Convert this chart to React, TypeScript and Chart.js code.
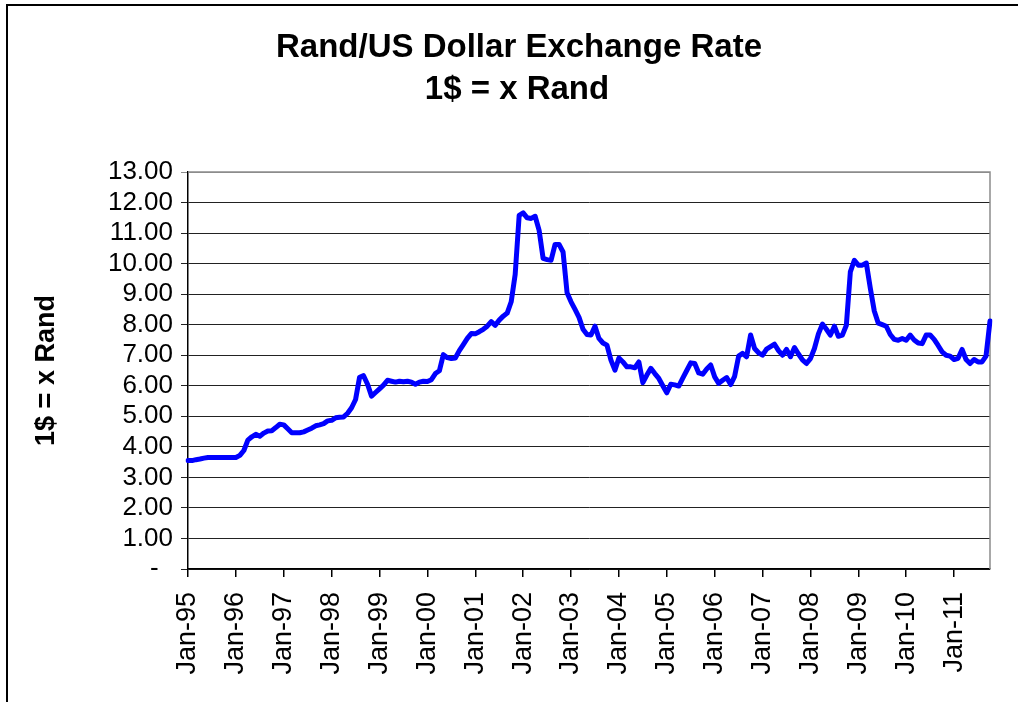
import React, { useEffect, useRef } from 'react';
import { Chart, registerables } from 'chart.js';

Chart.register(...registerables);

const FONT = '"Liberation Sans", Arial, Helvetica, sans-serif';

const titleLines = ['Rand/US Dollar Exchange Rate', '1$ = x Rand'];
const yAxisTitle = '1$ = x Rand';

const monthNames = ['Jan', 'Feb', 'Mar', 'Apr', 'May', 'Jun', 'Jul', 'Aug', 'Sep', 'Oct', 'Nov', 'Dec'];
const yearCodes = ['95', '96', '97', '98', '99', '00', '01', '02', '03', '04', '05', '06', '07', '08', '09', '10', '11'];

// Monthly rand per US dollar
const rate1995 = [3.55, 3.55, 3.58, 3.6, 3.63, 3.65, 3.65, 3.65, 3.65, 3.65, 3.65, 3.65];
const rate1996 = [3.65, 3.72, 3.88, 4.22, 4.33, 4.41, 4.35, 4.45, 4.52, 4.53, 4.63, 4.74];
const rate1997 = [4.72, 4.59, 4.46, 4.46, 4.46, 4.49, 4.55, 4.61, 4.69, 4.72, 4.76, 4.85];
const rate1998 = [4.87, 4.95, 4.97, 4.98, 5.1, 5.28, 5.55, 6.28, 6.33, 6.05, 5.66, 5.78];
const rate1999 = [5.9, 6.02, 6.18, 6.15, 6.12, 6.15, 6.13, 6.15, 6.12, 6.05, 6.12, 6.15];
const rate2000 = [6.14, 6.2, 6.4, 6.49, 7.02, 6.92, 6.89, 6.91, 7.15, 7.35, 7.55, 7.71];
const rate2001 = [7.7, 7.77, 7.85, 7.95, 8.1, 7.98, 8.15, 8.28, 8.38, 8.75, 9.65, 11.58];
const rate2002 = [11.66, 11.5, 11.48, 11.55, 11.09, 10.17, 10.13, 10.11, 10.63, 10.63, 10.38, 9.05];
const rate2003 = [8.75, 8.5, 8.24, 7.85, 7.68, 7.66, 7.95, 7.55, 7.4, 7.33, 6.84, 6.51];
const rate2004 = [6.91, 6.78, 6.62, 6.62, 6.59, 6.78, 6.1, 6.35, 6.57, 6.4, 6.24, 6.0];
const rate2005 = [5.77, 6.05, 6.03, 5.99, 6.25, 6.5, 6.75, 6.73, 6.42, 6.38, 6.55, 6.68];
const rate2006 = [6.29, 6.08, 6.18, 6.27, 6.04, 6.31, 6.97, 7.06, 6.95, 7.66, 7.22, 7.08];
const rate2007 = [7.0, 7.2, 7.28, 7.36, 7.15, 7.0, 7.19, 6.95, 7.25, 7.04, 6.85, 6.73];
const rate2008 = [6.89, 7.22, 7.7, 8.02, 7.85, 7.66, 7.95, 7.62, 7.66, 7.98, 9.73, 10.11];
const rate2009 = [9.95, 9.95, 10.02, 9.2, 8.45, 8.05, 8.0, 7.95, 7.68, 7.52, 7.49, 7.55];
const rate2010 = [7.49, 7.66, 7.5, 7.4, 7.38, 7.66, 7.66, 7.52, 7.32, 7.11, 7.0, 6.97];
const rate2011 = [6.86, 6.9, 7.19, 6.86, 6.73, 6.86, 6.78, 6.78, 6.97, 8.12];

const rates = [
  ...rate1995, ...rate1996, ...rate1997, ...rate1998, ...rate1999, ...rate2000,
  ...rate2001, ...rate2002, ...rate2003, ...rate2004, ...rate2005, ...rate2006,
  ...rate2007, ...rate2008, ...rate2009, ...rate2010, ...rate2011,
];

const labels: string[] = [];
yearCodes.forEach((yc) => monthNames.forEach((m) => labels.push(`${m}-${yc}`)));
labels.length = rates.length;

const yMin = 0;
const yMax = 13;
const yStep = 1;

export default function App() {
  const ref = useRef<HTMLCanvasElement>(null);

  useEffect(() => {
    if (!ref.current) return;
    const framePlugin = {
      id: 'frameAndTitle',
      beforeDatasetsDraw(chart: any) {
        const { ctx, chartArea: a } = chart;
        ctx.save();
        ctx.strokeStyle = '#8c8c8c';
        ctx.lineWidth = 1.5;
        ctx.beginPath();
        ctx.moveTo(a.left, a.top);
        ctx.lineTo(a.right, a.top);
        ctx.lineTo(a.right, a.bottom);
        ctx.stroke();
        ctx.restore();
      },
      afterDraw(chart: any) {
        const { ctx } = chart;
        ctx.save();
        ctx.fillStyle = '#000';
        ctx.font = `bold 33px ${FONT}`;
        ctx.textAlign = 'center';
        ctx.textBaseline = 'middle';
        ctx.fillText(titleLines[0], 519, 48);
        ctx.fillText(titleLines[1], 517, 90);
        ctx.restore();
      },
    };

    const chart = new Chart(ref.current, {
      type: 'line',
      data: {
        labels,
        datasets: [
          {
            data: rates,
            borderColor: '#0000ff',
            backgroundColor: '#0000ff',
            borderWidth: 5,
            pointRadius: 0,
            tension: 0,
            borderJoinStyle: 'round',
            borderCapStyle: 'round',
          },
        ],
      },
      options: {
        responsive: false,
        animation: false,
        layout: { padding: { top: 172, right: 28, left: 0, bottom: 0 } },
        plugins: {
          legend: { display: false },
          tooltip: { enabled: false },
          title: { display: false },
        },
        scales: {
          x: {
            type: 'category',
            offset: false,
            grid: {
              display: true,
              drawOnChartArea: false,
              drawTicks: true,
              tickLength: 8,
              color: '#000',
              lineWidth: 1.5,
            },
            border: { display: true, color: '#000', width: 1.5 },
            ticks: {
              autoSkip: false,
              minRotation: 90,
              maxRotation: 90,
              padding: 15,
              color: '#000',
              font: { family: FONT, size: 27 },
              callback: (_v: any, i: number) => (i % 12 === 0 ? labels[i] : null),
            },
            afterFit: (s: any) => {
              s.height = 133;
            },
          },
          y: {
            min: yMin,
            max: yMax,
            ticks: {
              stepSize: yStep,
              autoSkip: false,
              padding: 8,
              color: '#000',
              font: { family: FONT, size: 26 },
              callback: (v: any) => (Number(v) === 0 ? '-  ' : Number(v).toFixed(2)),
            },
            grid: {
              color: (c: any) => (c.tick && c.tick.value === yMax ? '#8c8c8c' : '#222'),
              lineWidth: 1,
              drawTicks: true,
              tickLength: 7,
            },
            border: { display: true, color: '#000', width: 1.5 },
            title: {
              display: true,
              text: yAxisTitle,
              color: '#000',
              font: { family: FONT, size: 27, weight: 'bold' },
              padding: { top: 30, bottom: 0 },
            },
            afterFit: (s: any) => {
              s.width = 188;
            },
          },
        },
      },
      plugins: [framePlugin],
    } as any);

    return () => chart.destroy();
  }, []);

  return (
    <div
      style={{
        position: 'fixed',
        left: 0,
        top: 0,
        width: 1018,
        height: 702,
        overflow: 'hidden',
        background: '#fff',
      }}
    >
      <div
        style={{
          position: 'absolute',
          left: 6,
          top: 4,
          width: 1040,
          height: 720,
          borderTop: '2px solid #000',
          borderLeft: '2px solid #000',
        }}
      />
      <canvas
        ref={ref}
        width={1018}
        height={702}
        style={{ position: 'absolute', left: 0, top: 0, width: 1018, height: 702 }}
      />
    </div>
  );
}
